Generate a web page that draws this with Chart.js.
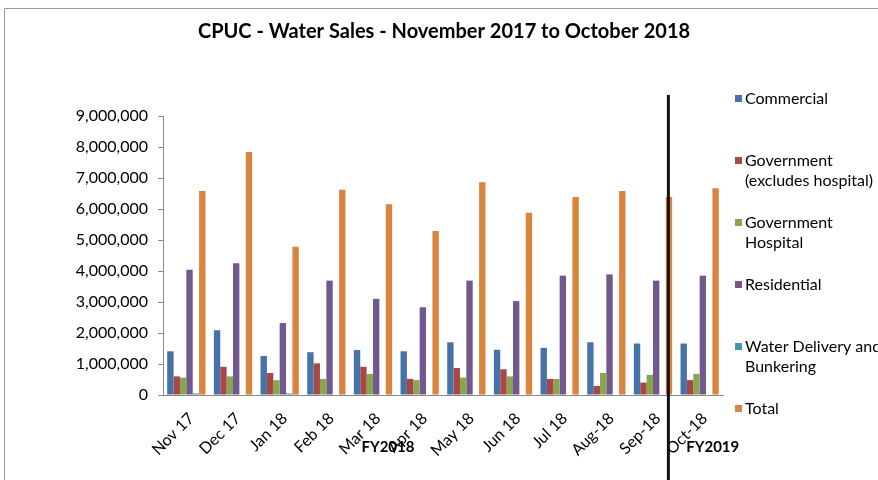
<!DOCTYPE html>
<html>
<head>
<meta charset="utf-8">
<script src="https://cdn.jsdelivr.net/npm/chart.js@4/dist/chart.umd.min.js"></script>
<style>
html,body{margin:0;padding:0;background:#fff;}
canvas{display:block;}
</style>
</head>
<body>
<canvas id="c" width="878" height="480"></canvas>
<script>
const categories = ['Nov 17','Dec 17','Jan 18','Feb 18','Mar 18','Apr 18','May 18','Jun 18','Jul 18','Aug-18','Sep-18','Oct-18'];
const commercial  = [1410000,2090000,1260000,1380000,1450000,1410000,1700000,1460000,1520000,1700000,1660000,1660000];
const government  = [600000,910000,710000,1020000,910000,520000,870000,830000,520000,290000,400000,480000];
const hospital    = [560000,600000,480000,520000,680000,480000,560000,600000,520000,710000,650000,680000];
const residential = [4040000,4250000,2320000,3690000,3100000,2830000,3690000,3030000,3850000,3890000,3690000,3850000];
const water       = [50000,0,50000,0,0,0,0,0,0,0,0,0];
const total       = [6580000,7840000,4780000,6620000,6150000,5290000,6860000,5880000,6390000,6580000,6390000,6670000];
const seriesNames = ['Commercial','Government (excludes hospital)','Government Hospital','Residential','Water Delivery and Bunkering','Total'];
const legendLines = [['Commercial'],['Government','(excludes hospital)'],['Government','Hospital'],['Residential'],['Water Delivery and','Bunkering'],['Total']];
const colors = ['#4572A7','#AA4643','#89A54E','#71588F','#4198AF','#DB843D'];
const titleText = 'CPUC - Water Sales - November 2017 to October 2018';
const fyLabels = ['FY2018','FY2019'];
const fyPositions = [4.32, 11.28];
const dividerPos = 10.33;

const FONT = 'Lato, "Open Sans", sans-serif';
const seriesData = [commercial, government, hospital, residential, water, total];

const overlay = {
  id: 'overlay',
  afterDraw(chart) {
    const ctx = chart.ctx, xs = chart.scales.x;
    ctx.save();
    // outer border
    ctx.strokeStyle = '#999';
    ctx.lineWidth = 1;
    ctx.beginPath();
    ctx.moveTo(4.5, 480); ctx.lineTo(4.5, 8.5); ctx.lineTo(878, 8.5);
    ctx.stroke();
    // title
    ctx.fillStyle = '#000';
    ctx.font = 'bold 20px ' + FONT;
    ctx.textAlign = 'center'; ctx.textBaseline = 'middle';
    ctx.fillText(titleText, 444, 32);
    // FY labels
    ctx.font = 'bold 15px ' + FONT;
    fyLabels.forEach((t, i) => ctx.fillText(t, xs.getPixelForValue(fyPositions[i]), 447));
    // divider
    const dx = xs.getPixelForValue(dividerPos);
    ctx.strokeStyle = '#111';
    ctx.lineWidth = 3;
    ctx.beginPath(); ctx.moveTo(dx, 95); ctx.lineTo(dx, 480); ctx.stroke();
    // legend
    ctx.font = '16px ' + FONT;
    ctx.textAlign = 'left';
    legendLines.forEach((lines, i) => {
      const y0 = 99 + i * 62;
      ctx.fillStyle = colors[i];
      ctx.fillRect(735, y0 - 4, 7, 7);
      ctx.fillStyle = '#000';
      lines.forEach((ln, j) => ctx.fillText(ln, 745, y0 + j * 20));
    });
    ctx.restore();
  }
};

new Chart(document.getElementById('c'), {
  type: 'bar',
  data: {
    labels: categories,
    datasets: seriesNames.map((n, i) => ({
      label: n,
      data: seriesData[i],
      backgroundColor: colors[i],
      borderWidth: 0,
      categoryPercentage: 0.82,
      barPercentage: 1.0
    }))
  },
  options: {
    responsive: false,
    animation: false,
    layout: { padding: { left: 0, top: 116, right: 155, bottom: 0 } },
    plugins: { legend: { display: false }, title: { display: false }, tooltip: { enabled: false } },
    scales: {
      x: {
        grid: { display: false, drawTicks: false },
        border: { display: true, color: '#888', width: 1 },
        ticks: { color: '#000', font: { family: FONT, size: 16 }, maxRotation: 45, minRotation: 45, padding: 14, labelOffset: 5, autoSkip: false },
        afterFit(s) { s.height = 85; }
      },
      y: {
        min: 0, max: 9000000,
        grid: { display: true, drawOnChartArea: false, tickLength: 5, color: '#888' },
        border: { display: true, color: '#888', width: 1 },
        ticks: { stepSize: 1000000, color: '#000', font: { family: FONT, size: 16 }, padding: 10,
                 callback: v => v.toLocaleString('en-US') },
        afterFit(s) { s.width = 163; }
      }
    }
  },
  plugins: [overlay]
});
</script>
</body>
</html>
